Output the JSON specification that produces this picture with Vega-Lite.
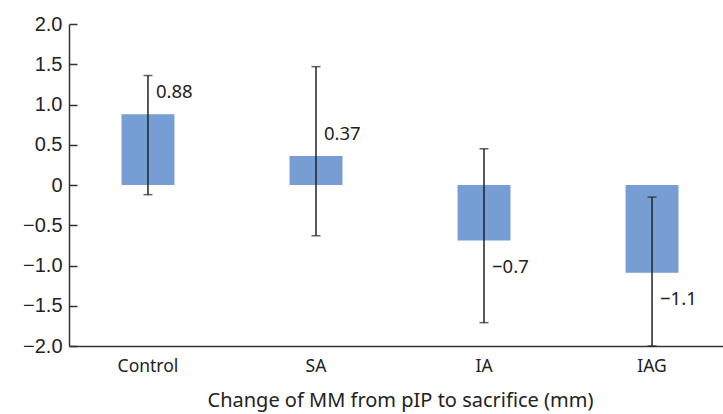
{
  "$schema": "https://vega.github.io/schema/vega-lite/v6.json",
  "width": 654,
  "height": 322,
  "autosize": "none",
  "padding": {"left": 69, "top": 24, "right": 0, "bottom": 68},
  "background": "white",
  "config": {"view": {"stroke": null}},
  "data": {
    "values": [
      {"group": "Control", "value": 0.88, "lo": -0.12, "hi": 1.36, "label": "0.88"},
      {"group": "SA", "value": 0.36, "lo": -0.63, "hi": 1.47, "label": "0.37"},
      {"group": "IA", "value": -0.69, "lo": -1.71, "hi": 0.45, "label": "−0.7"},
      {"group": "IAG", "value": -1.09, "lo": -2.0, "hi": -0.15, "label": "−1.1"}
    ]
  },
  "encoding": {
    "x": {
      "field": "group",
      "type": "nominal",
      "sort": null,
      "scale": {"range": [0, 662], "paddingInner": 0.685, "paddingOuter": 0.3125},
      "axis": {
        "title": "Change of MM from pIP to sacrifice (mm)",
        "labelAngle": 0,
        "ticks": false,
        "labelPadding": 11,
        "labelFont": "Noto Sans",
        "labelFontSize": 17.5,
        "labelColor": "#222222",
        "titleFont": "Noto Sans",
        "titleFontSize": 20,
        "titleFontWeight": "normal",
        "titleColor": "#222222",
        "titlePadding": 16,
        "domainColor": "#333333",
        "domainWidth": 1.5
      }
    }
  },
  "layer": [
    {
      "mark": {"type": "bar", "color": "#769DD4"},
      "encoding": {
        "y": {
          "field": "value",
          "type": "quantitative",
          "scale": {"domain": [-2, 2], "nice": false, "zero": false},
          "axis": {
            "title": null,
            "values": [-2, -1.5, -1, -0.5, 0, 0.5, 1, 1.5, 2],
            "labelExpr": "datum.value == 0 ? '0' : replace(format(datum.value, '.1f'), '-', '−')",
            "grid": false,
            "tickSize": -8,
            "tickColor": "#333333",
            "tickWidth": 1.5,
            "domainColor": "#333333",
            "domainWidth": 1.5,
            "labelFont": "Liberation Sans",
            "labelFontSize": 20,
            "labelColor": "#222222",
            "labelPadding": 15
          }
        }
      }
    },
    {
      "mark": {"type": "rule", "color": "#222222", "strokeWidth": 1.5},
      "encoding": {
        "y": {"field": "lo", "type": "quantitative"},
        "y2": {"field": "hi"}
      }
    },
    {
      "mark": {"type": "tick", "color": "#222222", "size": 9, "thickness": 1.5},
      "encoding": {"y": {"field": "hi", "type": "quantitative"}}
    },
    {
      "mark": {"type": "tick", "color": "#222222", "size": 9, "thickness": 1.5},
      "encoding": {"y": {"field": "lo", "type": "quantitative"}}
    },
    {
      "transform": [{"filter": "datum.value > 0"}],
      "mark": {"type": "text", "align": "left", "baseline": "middle", "dx": 8, "dy": -22, "font": "Noto Sans", "fontSize": 18.5, "color": "#222222"},
      "encoding": {
        "y": {"field": "value", "type": "quantitative"},
        "text": {"field": "label"}
      }
    },
    {
      "transform": [{"filter": "datum.value < 0"}],
      "mark": {"type": "text", "align": "left", "baseline": "middle", "dx": 8, "dy": 26, "font": "Noto Sans", "fontSize": 18.5, "color": "#222222"},
      "encoding": {
        "y": {"field": "value", "type": "quantitative"},
        "text": {"field": "label"}
      }
    }
  ]
}
